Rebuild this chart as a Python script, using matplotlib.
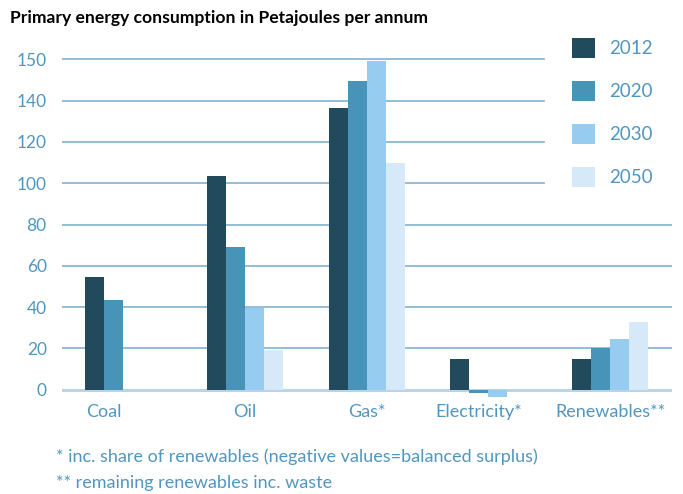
import numpy as np
import matplotlib
matplotlib.use("Agg")
import matplotlib.pyplot as plt

# ── Data ──────────────────────────────────────────────────────────────────────
categories = ["Coal", "Oil", "Gas*", "Electricity*", "Renewables**"]
years      = ["2012", "2020", "2030", "2050"]
v2012 = [54.6, 103.6, 136.6, 14.9, 14.9]
v2020 = [43.5, 69.2, 149.7, -1.5, 20.2]
v2030 = [np.nan, 39.8, 159.4, -3.5, 24.6]
v2050 = [np.nan, 19.2, 109.9, np.nan, 32.8]
y_ticks  = [0, 20, 40, 60, 80, 100, 120, 140, 160]
y_labels = ["0", "20", "40", "60", "80", "100", "120", "140", "150"]
footnotes = ["* inc. share of renewables (negative values=balanced surplus)",
             "** remaining renewables inc. waste"]

colors = ["#214a5c", "#4893b8", "#96ccf0", "#d6e9f8"]
TXT = "#5196bf"
GRID = "#80b3cd"

plt.rcParams["font.family"] = ["Lato", "DejaVu Sans"]

W, H = 683, 494
fig = plt.figure(figsize=(W / 100, H / 100), dpi=100)

# axes placed in pixel terms: x 62..672, y -5 → px 400, 160.5 → px 58.3
ax = fig.add_axes([62 / W, (H - 400) / H, 610 / W, (400 - 58.3) / H])

series = [v2012, v2020, v2030, v2050]
bw = 19 / 121.75
x = np.arange(len(categories))
for j, (vals, c, yr) in enumerate(zip(series, colors, years)):
    ax.bar(x + j * bw, vals, width=bw, align="edge", color=c, label=yr,
           zorder=3, linewidth=0)

# gridlines: upper ones stop before the legend
short = (544 - 62) / 610
for t in y_ticks[1:]:
    ax.axhline(t, xmin=0, xmax=short if t >= 100 else 1, color=GRID,
               lw=1.2, zorder=1)
ax.axhline(0, color="#b9d5e5", lw=2.2, zorder=2)

ax.set_xlim(-23 / 121.75, 587 / 121.75)
ax.set_ylim(-5, 160.5)

# category labels centred under the bars that exist
centers = []
for i in range(len(categories)):
    present = [j for j in range(len(series)) if not np.isnan(series[j][i])]
    centers.append(i + (np.mean(present) + 0.5) * bw)
ax.set_xticks(centers)
ax.set_xticklabels(categories, fontsize=13, color=TXT)
ax.set_yticks(y_ticks)
ax.set_yticklabels(y_labels, fontsize=12.5, color=TXT)
ax.tick_params(axis="both", length=0)
ax.tick_params(axis="y", pad=11)
ax.tick_params(axis="x", pad=3)
for s in ax.spines.values():
    s.set_visible(False)

leg = ax.legend(loc="upper left", bbox_to_anchor=(572 / W, (H - 38) / H),
                bbox_transform=fig.transFigure, frameon=False, fontsize=13.5,
                handlelength=1.23, handleheight=1.23, labelspacing=1.25,
                handletextpad=0.75, borderpad=0, borderaxespad=0)
for t in leg.get_texts():
    t.set_color(TXT)

fig.text(10 / W, (H - 18) / H, "Primary energy consumption in Petajoules per annum",
         fontsize=12.6, fontweight="bold", color="black", va="center")
fig.text(56 / W, (H - 457) / H, footnotes[0], fontsize=13, color=TXT, va="center")
fig.text(56 / W, (H - 483) / H, footnotes[1], fontsize=13, color=TXT, va="center")

fig.savefig("out.png", dpi=100)
